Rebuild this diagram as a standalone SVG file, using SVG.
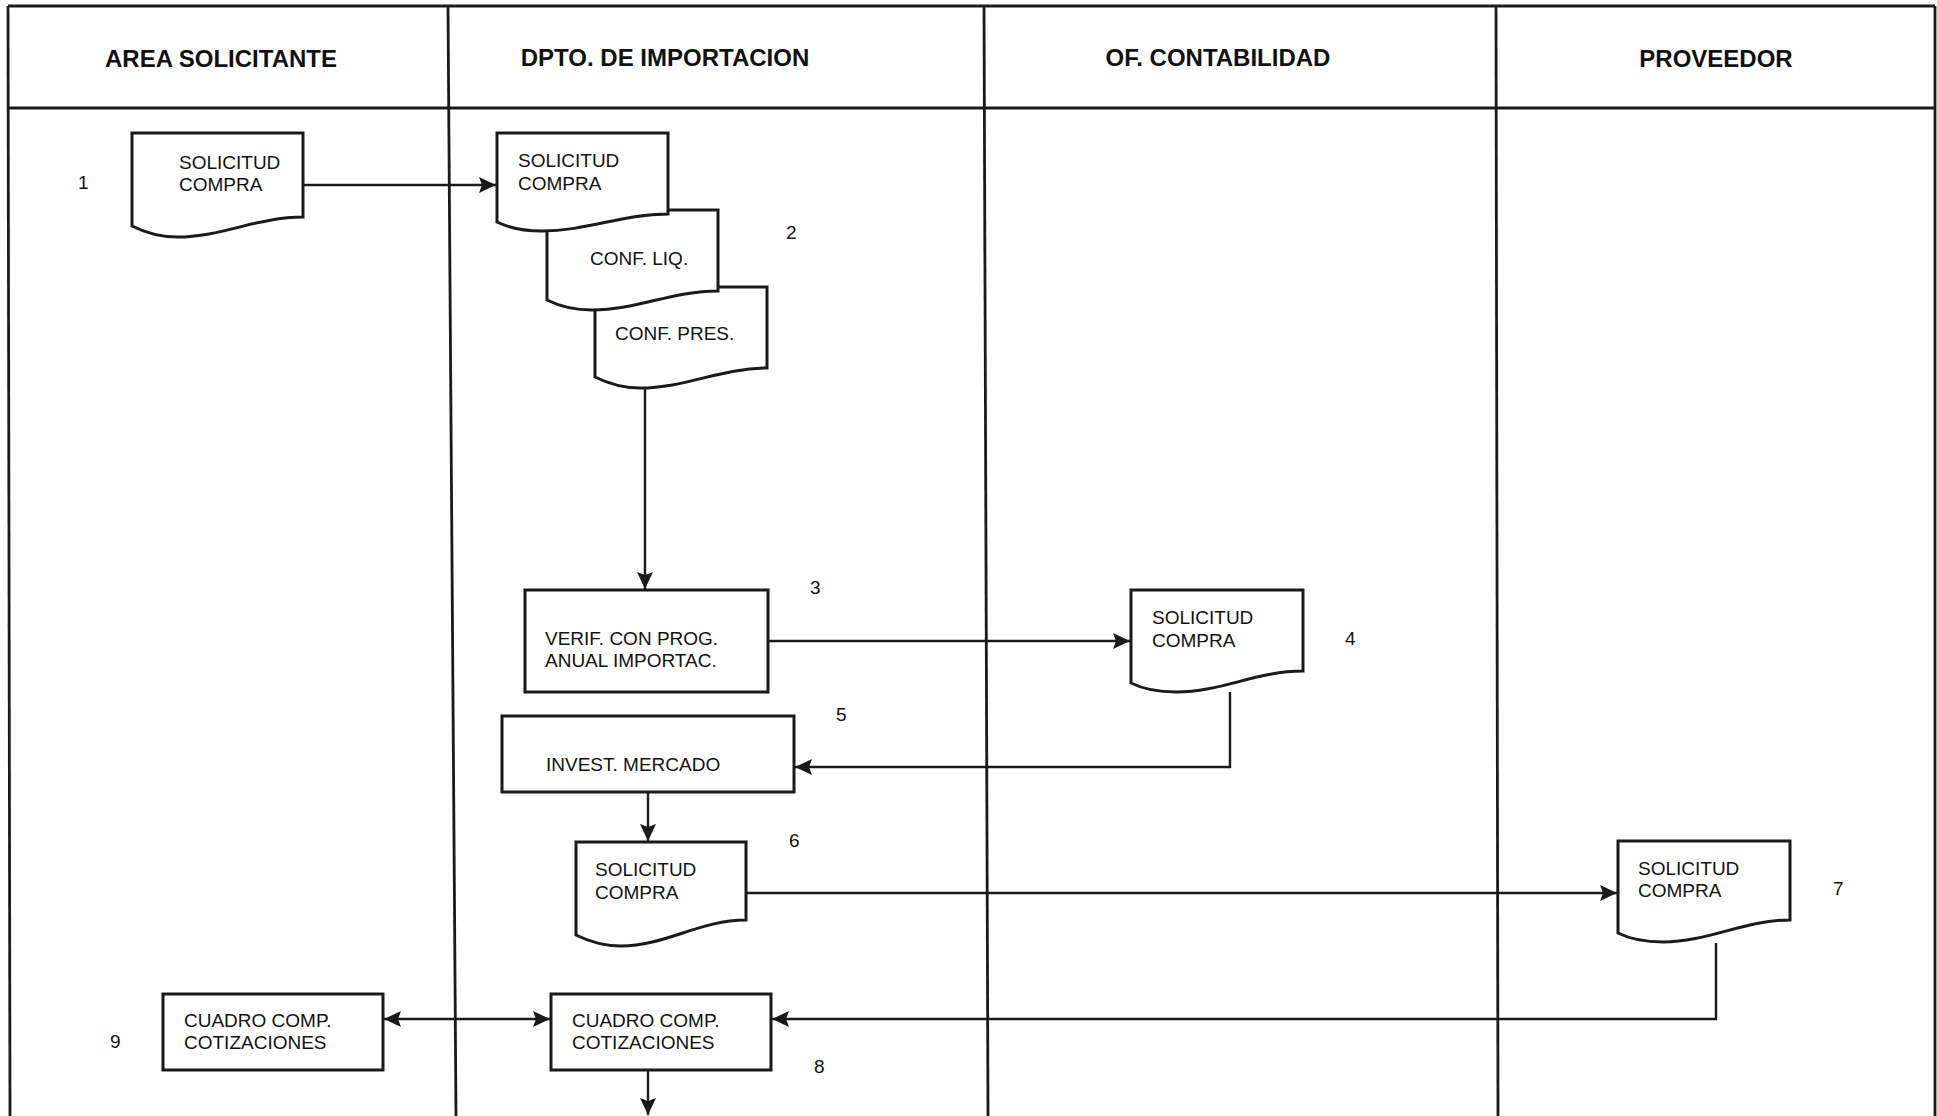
<svg xmlns="http://www.w3.org/2000/svg" width="1937" height="1116" viewBox="0 0 1937 1116">
  <defs>
    <style>
      .lane { stroke: #1a1a1a; stroke-width: 2.8; fill: none; }
      .shape { stroke: #1a1a1a; stroke-width: 3; fill: #ffffff; stroke-linejoin: miter; }
      .conn { stroke: #1a1a1a; stroke-width: 2.4; fill: none; }
      .head { font-family: "Liberation Sans", Arial, sans-serif; font-weight: bold; font-size: 24px; fill: #111; }
      .lbl { font-family: "Liberation Sans", Arial, sans-serif; font-size: 19px; fill: #111; }
      .num { font-family: "Liberation Sans", Arial, sans-serif; font-size: 19px; fill: #111; }
    </style>
    <marker id="arrow" markerUnits="userSpaceOnUse" markerWidth="20" markerHeight="18" refX="17" refY="8" orient="auto-start-reverse">
      <path d="M0,0 L17,8 L0,16 L3,8 Z" fill="#1a1a1a"/>
    </marker>
  </defs>

  <rect width="1937" height="1116" fill="#ffffff"/>

  <!-- swimlane frame -->
  <g id="lanes">
    <line class="lane" x1="8" y1="6" x2="1935" y2="6"/>
    <line class="lane" x1="8" y1="108" x2="1935" y2="108"/>
    <line class="lane" x1="8" y1="6" x2="10" y2="1116"/>
    <line class="lane" x1="448" y1="6" x2="456" y2="1116"/>
    <line class="lane" x1="984" y1="6" x2="988" y2="1116"/>
    <line class="lane" x1="1496" y1="6" x2="1498" y2="1116"/>
    <line class="lane" x1="1935" y1="6" x2="1935" y2="1116"/>
    <text class="head" x="221" y="67" text-anchor="middle">AREA SOLICITANTE</text>
    <text class="head" x="665" y="66" text-anchor="middle">DPTO. DE IMPORTACION</text>
    <text class="head" x="1218" y="66" text-anchor="middle">OF. CONTABILIDAD</text>
    <text class="head" x="1716" y="67" text-anchor="middle">PROVEEDOR</text>
  </g>

  <!-- connectors -->
  <g id="connectors">
    <line class="conn" x1="303" y1="185" x2="496" y2="185" marker-end="url(#arrow)"/>
    <line class="conn" x1="645" y1="388" x2="645" y2="589" marker-end="url(#arrow)"/>
    <line class="conn" x1="768" y1="641" x2="1130" y2="641" marker-end="url(#arrow)"/>
    <polyline class="conn" points="1230,692 1230,767 795,767" marker-end="url(#arrow)"/>
    <line class="conn" x1="648" y1="792" x2="648" y2="841" marker-end="url(#arrow)"/>
    <line class="conn" x1="746" y1="893" x2="1617" y2="893" marker-end="url(#arrow)"/>
    <polyline class="conn" points="1716,943 1716,1019 772,1019" marker-end="url(#arrow)"/>
    <line class="conn" x1="384" y1="1019" x2="550" y2="1019" marker-start="url(#arrow)" marker-end="url(#arrow)"/>
    <line class="conn" x1="648" y1="1070" x2="648" y2="1115" marker-end="url(#arrow)"/>
  </g>

  <!-- 1: request document in the requesting area -->
  <g id="node1">
    <path class="shape" transform="translate(132,133)" d="M0,0 H171 V84 C125,84 90,104 45,104 C24,104 8,97 0,93 Z"/>
    <text class="lbl" x="179" y="169">SOLICITUD</text>
    <text class="lbl" x="179" y="191">COMPRA</text>
    <text class="num" x="78" y="189">1</text>
  </g>

  <!-- 2: stacked documents in the import department -->
  <g id="node2">
    <path class="shape" transform="translate(595,287)" d="M0,0 H172 V81 C126,81 90,101 45,101 C24,101 8,94 0,90 Z"/>
    <text class="lbl" x="615" y="340">CONF. PRES.</text>
    <path class="shape" transform="translate(547,210)" d="M0,0 H171 V81 C125,81 90,100 45,100 C24,100 8,94 0,90 Z"/>
    <text class="lbl" x="590" y="265">CONF. LIQ.</text>
    <path class="shape" transform="translate(497,133)" d="M0,0 H171 V81 C125,81 90,98 45,98 C24,98 8,93 0,89 Z"/>
    <text class="lbl" x="518" y="167">SOLICITUD</text>
    <text class="lbl" x="518" y="190">COMPRA</text>
    <text class="num" x="786" y="239">2</text>
  </g>

  <!-- 3: check against the annual import programme -->
  <g id="node3">
    <rect class="shape" x="525" y="590" width="243" height="102"/>
    <text class="lbl" x="545" y="645">VERIF. CON PROG.</text>
    <text class="lbl" x="545" y="667">ANUAL IMPORTAC.</text>
    <text class="num" x="810" y="594">3</text>
  </g>

  <!-- 4: request document at accounting -->
  <g id="node4">
    <path class="shape" transform="translate(1131,590)" d="M0,0 H172 V81 C126,81 90,102 45,102 C24,102 8,97 0,93 Z"/>
    <text class="lbl" x="1152" y="624">SOLICITUD</text>
    <text class="lbl" x="1152" y="647">COMPRA</text>
    <text class="num" x="1345" y="645">4</text>
  </g>

  <!-- 5: market research -->
  <g id="node5">
    <rect class="shape" x="502" y="716" width="292" height="76"/>
    <text class="lbl" x="546" y="771">INVEST. MERCADO</text>
    <text class="num" x="836" y="721">5</text>
  </g>

  <!-- 6: request document sent to supplier -->
  <g id="node6">
    <path class="shape" transform="translate(576,842)" d="M0,0 H170 V78 C124,78 89,104 45,104 C24,104 8,97 0,93 Z"/>
    <text class="lbl" x="595" y="876">SOLICITUD</text>
    <text class="lbl" x="595" y="899">COMPRA</text>
    <text class="num" x="789" y="847">6</text>
  </g>

  <!-- 7: request document at supplier -->
  <g id="node7">
    <path class="shape" transform="translate(1618,841)" d="M0,0 H172 V79 C126,79 90,101 45,101 C24,101 8,96 0,92 Z"/>
    <text class="lbl" x="1638" y="875">SOLICITUD</text>
    <text class="lbl" x="1638" y="897">COMPRA</text>
    <text class="num" x="1833" y="895">7</text>
  </g>

  <!-- 8: quotation comparison table in the import department -->
  <g id="node8">
    <rect class="shape" x="551" y="994" width="220" height="76"/>
    <text class="lbl" x="572" y="1027">CUADRO COMP.</text>
    <text class="lbl" x="572" y="1049">COTIZACIONES</text>
    <text class="num" x="814" y="1073">8</text>
  </g>

  <!-- 9: quotation comparison table in the requesting area -->
  <g id="node9">
    <rect class="shape" x="163" y="994" width="220" height="76"/>
    <text class="lbl" x="184" y="1027">CUADRO COMP.</text>
    <text class="lbl" x="184" y="1049">COTIZACIONES</text>
    <text class="num" x="110" y="1048">9</text>
  </g>
</svg>
